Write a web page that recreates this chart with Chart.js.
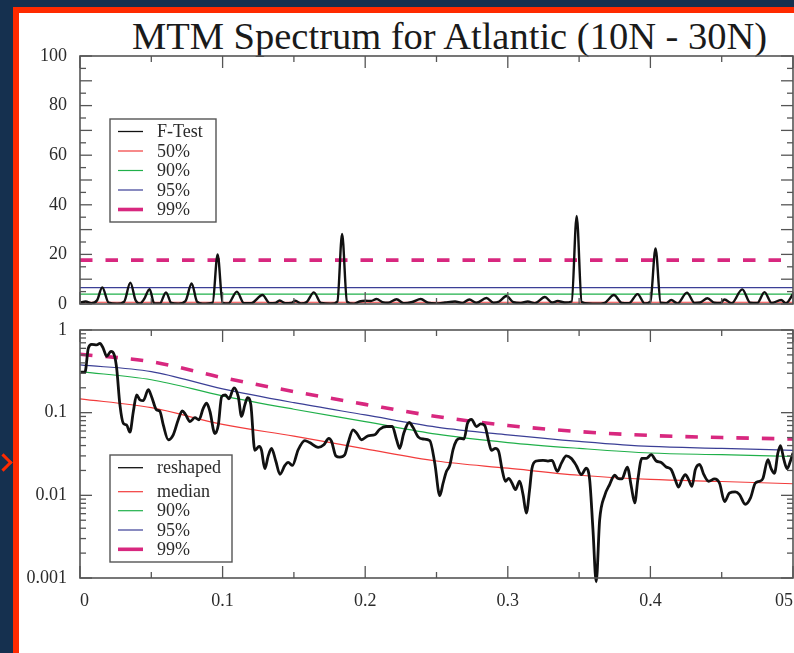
<!DOCTYPE html>
<html>
<head>
<meta charset="utf-8">
<script src="https://cdn.jsdelivr.net/npm/chart.js@4.4.1/dist/chart.umd.min.js"></script>
<style>
    html, body { margin: 0; padding: 0; width: 794px; height: 653px; overflow: hidden; background: #15304f; }
    #border { position: absolute; left: 13px; top: 7px; width: 781px; height: 646px; background: #ff2a00; }
    #panel { position: absolute; left: 19px; top: 13px; width: 775px; height: 640px; background: #fff; }
    #arrow { position: absolute; left: -3px; top: 456px; width: 10px; height: 10px;
             border-top: 3px solid #ff2a00; border-right: 3px solid #ff2a00; transform: rotate(45deg); }
    #title { position: absolute; left: 132px; top: 17px; font: 38.5px/38px 'Liberation Serif', 'Times New Roman', serif;
             color: #1a1a1a; white-space: nowrap; }
    canvas { position: absolute; left: 0; }
    #topChart { top: 40px; }
    #botChart { top: 320px; }
</style>
</head>
<body>
<div id="border"></div>
<div id="panel"></div>
<div id="arrow"></div>
<div id="title">MTM Spectrum for Atlantic (10N - 30N)</div>
<canvas id="topChart" width="794" height="280"></canvas>
<canvas id="botChart" width="794" height="333"></canvas>
<script>
// ---- axis ticks ----
const xTickVals = [0, 0.1, 0.2, 0.3, 0.4, 0.5];
const xTickLabels = ['0', '0.1', '0.2', '0.3', '0.4', '05'];
const yTopTicks = [0, 20, 40, 60, 80, 100];
const yLogTicks = [0.001, 0.01, 0.1, 1];
const yLogLabels = ['0.001', '0.01', '0.1', '1'];

// ---- F-test (top panel) ----
const fFreq = [0, 0.004, 0.008, 0.012, 0.0156, 0.02, 0.026, 0.031, 0.0353, 0.039, 0.042, 0.045, 0.0488, 0.052,
    0.056, 0.0603, 0.064, 0.069, 0.074, 0.0783, 0.082, 0.086, 0.093, 0.0965, 0.1, 0.104, 0.11, 0.115, 0.12,
    0.128, 0.133, 0.137, 0.14, 0.144, 0.148, 0.151, 0.155, 0.159, 0.164, 0.169, 0.176, 0.1805, 0.1838, 0.1872,
    0.192, 0.196, 0.2, 0.204, 0.208, 0.212, 0.216, 0.222, 0.227, 0.233, 0.239, 0.244, 0.25, 0.256, 0.263, 0.268,
    0.273, 0.278, 0.285, 0.29, 0.294, 0.299, 0.304, 0.309, 0.314, 0.319, 0.326, 0.331, 0.335, 0.34, 0.3448,
    0.3483, 0.3518, 0.357, 0.362, 0.368, 0.3744, 0.38, 0.385, 0.391, 0.396, 0.4, 0.4036, 0.4072, 0.411, 0.4146,
    0.419, 0.4256, 0.431, 0.435, 0.44, 0.445, 0.449, 0.452, 0.457, 0.4644, 0.47, 0.475, 0.48, 0.485, 0.4917,
    0.495, 0.5];
const fVal = [0.5, 1.0, 0.3, 1.5, 6.7, 0.6, 0.1, 1.0, 8.6, 1.5, 0.2, 2.0, 6.0, 0.3,
    0.2, 4.7, 0.4, 0.1, 1.2, 8.3, 1.0, 0.1, 0.5, 20, 0.5, 0.2, 5.0, 0.3, 0.3,
    3.6, 0.3, 0.4, 1.4, 0.3, 0.4, 1.3, 0.2, 0.8, 4.7, 0.4, 0.1, 1.0, 28.2, 1.0,
    0.1, 1.0, 1.3, 1.2, 2.0, 0.8, 0.5, 1.9, 0.3, 0.8, 2.0, 0.5, 0.2, 0.6, 1.0, 0.4,
    1.8, 0.5, 2.4, 0.5, 1.0, 3.2, 0.7, 0.4, 1.0, 0.3, 2.8, 0.6, 1.2, 0.6, 1.0,
    35.5, 0.8, 0.2, 0.1, 0.5, 3.6, 0.4, 0.3, 4.0, 0.2, 1.0, 22.4, 0.5, 0.3, 1.6,
    0.2, 4.6, 0.4, 0.6, 2.3, 0.5, 0.4, 1.8, 0.3, 5.9, 0.5, 0.4, 4.8, 0.4, 1.6,
    0.3, 4.0];
const levelFreq = [0, 0.5];
const f50 = [0.7, 0.7];
const f90 = [4.0, 4.0];
const f95 = [6.6, 6.6];
const f99 = [17.7, 17.7];

// ---- reshaped spectrum (bottom panel) ----
const rFreq = [0.0007, 0.0035, 0.0058, 0.0082, 0.0117, 0.014, 0.0163, 0.0187, 0.0217, 0.024, 0.0257, 0.028,
    0.0304, 0.0327, 0.035, 0.0374, 0.0397, 0.042, 0.0444, 0.0479, 0.0502, 0.0537, 0.056, 0.0584, 0.0619, 0.0654,
    0.0689, 0.0717, 0.074, 0.0771, 0.0806, 0.0834, 0.0864, 0.0888, 0.0911, 0.0946, 0.097, 0.0993, 0.102, 0.1044,
    0.108, 0.111, 0.1133, 0.1156, 0.1175, 0.1198, 0.1226, 0.1257, 0.1273, 0.1296, 0.132, 0.1343, 0.1373, 0.1402,
    0.1437, 0.146, 0.149, 0.153, 0.1577, 0.161, 0.167, 0.171, 0.1745, 0.1764, 0.1794, 0.1822, 0.1857, 0.188,
    0.1915, 0.1939, 0.1974, 0.202, 0.2067, 0.2102, 0.2149, 0.219, 0.222, 0.2242, 0.227, 0.2308, 0.2336, 0.2371,
    0.2406, 0.2453, 0.2488, 0.2523, 0.2546, 0.257, 0.2593, 0.2616, 0.264, 0.2663, 0.2693, 0.2717, 0.2745, 0.278,
    0.281, 0.2838, 0.2866, 0.2885, 0.2913, 0.2936, 0.296, 0.2983, 0.3006, 0.303, 0.3053, 0.3083, 0.3107, 0.313,
    0.3153, 0.3169, 0.32, 0.3247, 0.3282, 0.331, 0.3347, 0.3376, 0.341, 0.3445, 0.348, 0.3516, 0.355, 0.3574,
    0.3597, 0.362, 0.3644, 0.368, 0.3714, 0.3749, 0.3773, 0.38, 0.3838, 0.3866, 0.389, 0.3912, 0.394, 0.3972,
    0.4006, 0.4041, 0.4076, 0.4111, 0.4146, 0.4174, 0.4198, 0.4221, 0.4245, 0.4268, 0.4291, 0.4315, 0.4345,
    0.4375, 0.4408, 0.445, 0.4485, 0.452, 0.4555, 0.4595, 0.4625, 0.4665, 0.4702, 0.4735, 0.4765, 0.4789, 0.4824,
    0.4847, 0.487, 0.4894, 0.4912, 0.4936, 0.4959, 0.4982, 0.5];
const rVal = [0.31, 0.31, 0.60, 0.67, 0.66, 0.69, 0.60, 0.48, 0.55, 0.50, 0.345, 0.124,
    0.074, 0.071, 0.058, 0.103, 0.164, 0.143, 0.14, 0.19, 0.156, 0.108, 0.104, 0.071, 0.047, 0.054,
    0.082, 0.105, 0.095, 0.078, 0.087, 0.082, 0.113, 0.13, 0.104, 0.056, 0.071, 0.156, 0.164, 0.147,
    0.20, 0.156, 0.09, 0.124, 0.152, 0.125, 0.035, 0.039, 0.035, 0.021, 0.030, 0.037, 0.026, 0.018,
    0.023, 0.025, 0.023, 0.0356, 0.046, 0.0435, 0.038, 0.041, 0.049, 0.045, 0.030, 0.029, 0.031, 0.043,
    0.062, 0.057, 0.047, 0.0525, 0.054, 0.063, 0.068, 0.068, 0.047, 0.037, 0.056, 0.076, 0.066, 0.051,
    0.048, 0.046, 0.0245, 0.0099, 0.014, 0.0195, 0.023, 0.0356, 0.046, 0.049, 0.048, 0.074, 0.083, 0.068,
    0.073, 0.070, 0.045, 0.035, 0.037, 0.034, 0.0205, 0.0148, 0.016, 0.014, 0.0117, 0.0148, 0.0102, 0.0061,
    0.0117, 0.021, 0.026, 0.0265, 0.026, 0.0265, 0.0195, 0.0245, 0.030, 0.028, 0.023, 0.0178, 0.0213, 0.0155,
    0.0039, 0.0009, 0.005, 0.0100, 0.0135, 0.0175, 0.016, 0.0158, 0.022, 0.0128, 0.0081, 0.0155, 0.028, 0.028,
    0.031, 0.026, 0.025, 0.022, 0.0205, 0.0155, 0.0126, 0.0155, 0.0178, 0.0155, 0.0128, 0.0205, 0.0236,
    0.0178, 0.0148, 0.0158, 0.014, 0.0084, 0.0107, 0.011, 0.0102, 0.0078, 0.0093, 0.014, 0.0148, 0.016, 0.027,
    0.021, 0.0185, 0.0325, 0.040, 0.027, 0.021, 0.026, 0.0325];
const sFreq = [0, 0.05, 0.1, 0.15, 0.2, 0.25, 0.3, 0.35, 0.4, 0.45, 0.5];
const sMedian = [0.147, 0.115, 0.072, 0.052, 0.0365, 0.026, 0.0213, 0.0175, 0.0156, 0.0147, 0.0138];
const s90 = [0.314, 0.25, 0.16, 0.11, 0.078, 0.055, 0.0435, 0.037, 0.0325, 0.031, 0.0295];
const s95 = [0.378, 0.314, 0.194, 0.132, 0.094, 0.067, 0.054, 0.045, 0.039, 0.037, 0.035];
const s99 = [0.508, 0.414, 0.265, 0.18, 0.126, 0.09, 0.07, 0.059, 0.053, 0.05, 0.048];

const FONT = "'Liberation Serif', 'Times New Roman', serif";
const TEXT = '#2b2b2b';
const AXIS = '#555';
const C = { black: '#111', red: '#f23c3c', green: '#20b04a', blue: '#3b3f96', pink: '#d8287f' };

const pts = (xs, ys) => xs.map((x, i) => ({ x: x, y: ys[i] }));

function series(label, xs, ys, color, width, extra) {
    return Object.assign({
        label: label,
        data: pts(xs, ys),
        borderColor: color,
        backgroundColor: color,
        borderWidth: width,
        legendWidth: Math.min(width, 1.3),
        pointRadius: 0,
        fill: false,
        cubicInterpolationMode: 'monotone'
    }, extra || {});
}

// sin relleno extra por las etiquetas extremas
function noLabelPad(s) {
    s.paddingTop = 0;
    s.paddingBottom = 0;
    s.paddingLeft = 0;
    s.paddingRight = 0;
}

// marco con marcas hacia dentro en los cuatro lados
const framePlugin = {
    id: 'frame',
    afterDraw(chart, args, opts) {
        const { ctx, chartArea: a, scales } = chart;
        ctx.save();
        ctx.strokeStyle = AXIS;
        ctx.lineWidth = 1.6;
        ctx.strokeRect(a.left, a.top, a.right - a.left, a.bottom - a.top);
        ctx.lineWidth = 1.3;
        const seg = (x1, y1, x2, y2) => { ctx.beginPath(); ctx.moveTo(x1, y1); ctx.lineTo(x2, y2); ctx.stroke(); };
        for (let k = 0; k <= 10; k++) {
            const px = scales.x.getPixelForValue(k * 0.05);
            const len = k % 2 === 0 ? 12 : 6;
            seg(px, a.bottom, px, a.bottom - len);
            seg(px, a.top, px, a.top + len);
        }
        opts.yTicks.forEach(t => {
            const py = scales.y.getPixelForValue(t.v);
            seg(a.left, py, a.left + t.len, py);
            seg(a.right, py, a.right - t.len, py);
        });
        ctx.restore();
    }
};

// leyenda dentro del area de trazado
const boxLegend = {
    id: 'boxLegend',
    afterDraw(chart, args, o) {
        const ctx = chart.ctx;
        ctx.save();
        ctx.fillStyle = '#fff';
        ctx.fillRect(o.x, o.y, o.w, o.h);
        ctx.strokeStyle = AXIS;
        ctx.lineWidth = 1.4;
        ctx.strokeRect(o.x, o.y, o.w, o.h);
        ctx.font = '18px ' + FONT;
        ctx.textBaseline = 'middle';
        chart.data.datasets.forEach((ds, i) => {
            const y = o.y + o.rows[i];
            ctx.strokeStyle = ds.borderColor;
            ctx.lineWidth = ds.borderDash ? ds.borderWidth : ds.legendWidth;
            ctx.beginPath();
            ctx.moveTo(o.x + 8, y);
            ctx.lineTo(o.x + 33, y);
            ctx.stroke();
            ctx.fillStyle = TEXT;
            ctx.fillText(ds.label, o.x + 47, y + 1);
        });
        ctx.restore();
    }
};

const topTickMarks = [];
for (let v = 0; v <= 100; v += 5) topTickMarks.push({ v: v, len: v % 10 === 0 ? 12 : 6 });
const logTickMarks = [];
[0.001, 0.01, 0.1].forEach(d => {
    logTickMarks.push({ v: d, len: 12 });
    for (let k = 2; k <= 9; k++) logTickMarks.push({ v: d * k, len: 6 });
});
logTickMarks.push({ v: 1, len: 12 });

const tickFont = { family: FONT, size: 18 };

new Chart(document.getElementById('topChart'), {
    type: 'line',
    data: {
        datasets: [
            series('F-Test', fFreq, fVal, C.black, 2.4),
            series('50%', levelFreq, f50, C.red, 1.2),
            series('90%', levelFreq, f90, C.green, 1.2),
            series('95%', levelFreq, f95, C.blue, 1.2),
            series('99%', levelFreq, f99, C.pink, 3.6, { borderDash: [12.5, 13] })
        ]
    },
    options: {
        responsive: false,
        animation: false,
        layout: { padding: { top: 16, right: 1, bottom: 16, left: 0 } },
        plugins: {
            legend: { display: false },
            tooltip: { enabled: false },
            frame: { yTicks: topTickMarks },
            boxLegend: { x: 110, y: 79, w: 106, h: 103, rows: [12.5, 32, 51.5, 71, 90.5] }
        },
        scales: {
            x: { type: 'linear', min: 0, max: 0.5, display: false },
            y: {
                type: 'linear', min: 0, max: 100,
                grid: { display: false, drawTicks: false },
                border: { display: false },
                ticks: { padding: 13, font: tickFont, color: TEXT, callback: v => String(v) },
                afterBuildTicks: s => { s.ticks = yTopTicks.map(v => ({ value: v })); },
                afterFit: s => { s.width = 80; noLabelPad(s); }
            }
        }
    },
    plugins: [framePlugin, boxLegend]
});

new Chart(document.getElementById('botChart'), {
    type: 'line',
    data: {
        datasets: [
            series('reshaped', rFreq, rVal, C.black, 2.8, { clip: { left: 0, top: 0, right: 0, bottom: 8 } }),
            series('median', sFreq, sMedian, C.red, 1.2),
            series('90%', sFreq, s90, C.green, 1.2),
            series('95%', sFreq, s95, C.blue, 1.2),
            series('99%', sFreq, s99, C.pink, 3.6, { borderDash: [12.5, 13] })
        ]
    },
    options: {
        responsive: false,
        animation: false,
        layout: { padding: { top: 10, right: 1, bottom: 0, left: 0 } },
        plugins: {
            legend: { display: false },
            tooltip: { enabled: false },
            frame: { yTicks: logTickMarks },
            boxLegend: { x: 110, y: 135, w: 122, h: 107, rows: [12.7, 36.7, 55.7, 75, 94.3] }
        },
        scales: {
            x: {
                type: 'linear', min: 0, max: 0.5,
                grid: { display: false, drawTicks: false },
                border: { display: false },
                ticks: { padding: 12, font: tickFont, color: TEXT, maxRotation: 0, align: 'inner',
                         callback: (v, i) => xTickLabels[i] },
                afterBuildTicks: s => { s.ticks = xTickVals.map(v => ({ value: v })); },
                afterFit: s => { s.height = 75; noLabelPad(s); }
            },
            y: {
                type: 'logarithmic', min: 0.001, max: 1,
                grid: { display: false, drawTicks: false },
                border: { display: false },
                ticks: { padding: 13, font: tickFont, color: TEXT, callback: (v, i) => yLogLabels[i] },
                afterBuildTicks: s => { s.ticks = yLogTicks.map(v => ({ value: v })); },
                afterFit: s => { s.width = 80; noLabelPad(s); }
            }
        }
    },
    plugins: [framePlugin, boxLegend]
});
</script>
</body>
</html>
